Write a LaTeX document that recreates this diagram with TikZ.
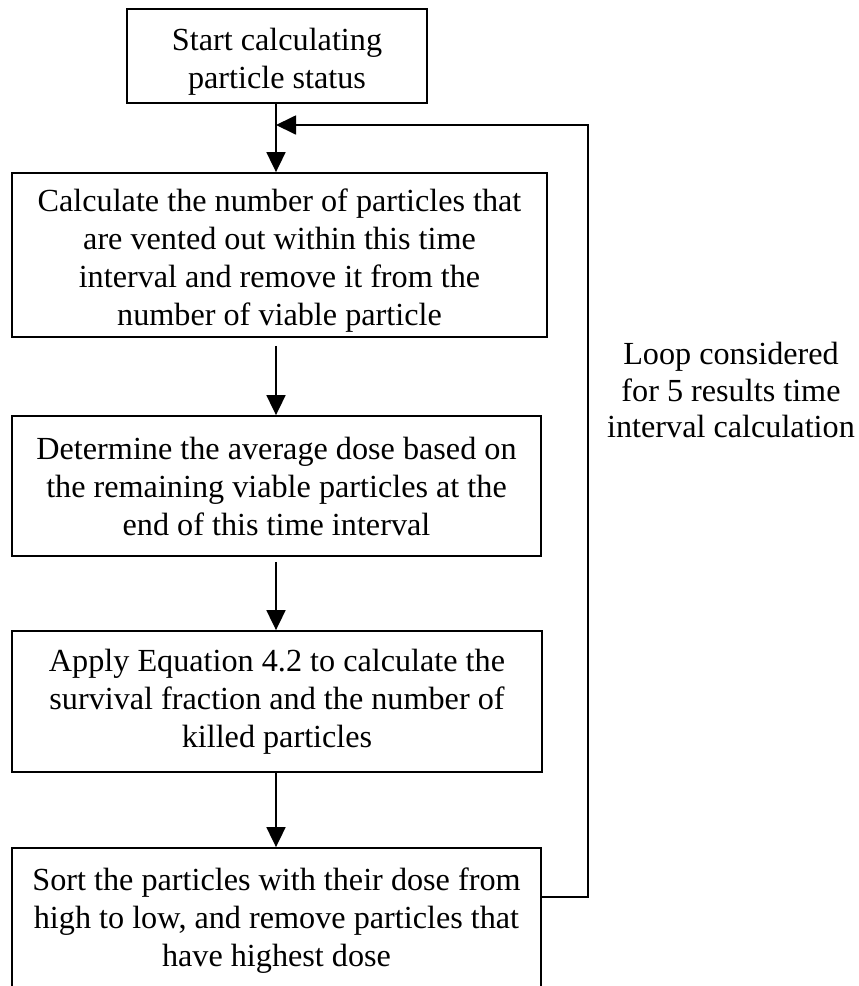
\documentclass[tikz,border=0pt]{standalone}
\usepackage{fontspec}
\setmainfont{Liberation Serif}
\usetikzlibrary{arrows.meta}
\newcommand{\lowtext}{\rule{0pt}{17pt}}
\begin{document}
\begin{tikzpicture}[x=0.5pt,y=-0.5pt,
		flowbox/.style={draw,line width=0.9pt,inner sep=0pt,align=center,font=\fontsize{16.1}{19}\selectfont},
		flowarrow/.style={line width=0.9pt,-{Triangle[length=10pt,width=9.5pt]}}]
		\useasboundingbox (0,0) rectangle (858,986);
		\node [flowbox,minimum width=150pt,minimum height=47pt] (start) at (277,56) {\lowtext Start calculating\\particle status};
		\node [flowbox,minimum width=267.5pt,minimum height=82pt] (vent) at (279.5,255) {\lowtext Calculate the number of particles that\\are vented out within this time\\interval and remove it from the\\number of viable particle};
		\node [flowbox,minimum width=264.5pt,minimum height=70pt] (dose) at (276.5,486) {Determine the average dose based on\\the remaining viable particles at the\\end of this time interval};
		\node [flowbox,minimum width=265pt,minimum height=70.5pt] (kill) at (277,701.5) {Apply Equation 4.2 to calculate the\\survival fraction and the number of\\killed particles};
		\node [flowbox,minimum width=264.5pt,minimum height=72.5pt] (sort) at (276.5,920.5) {Sort the particles with their dose from\\high to low, and remove particles that\\have highest dose};
		\node [align=center,font=\fontsize{16.1}{18.3}\selectfont] (looplbl) at (731,390) {Loop considered\\for 5 results time\\interval calculation};
		\coordinate (stem) at (276,0);
		\coordinate (loopbot) at (588,897);
		\coordinate (looptop) at (588,125);
		\draw [flowarrow] (start.south -| stem) -- (vent.north -| stem);
		\draw [flowarrow,shorten <=4pt] (vent.south -| stem) -- (dose.north -| stem);
		\draw [flowarrow,shorten <=2.5pt] (dose.south -| stem) -- (kill.north -| stem);
		\draw [flowarrow] (kill.south -| stem) -- (sort.north -| stem);
		\draw [flowarrow] (sort.east |- loopbot) -- (loopbot) -- (looptop) -- (stem |- looptop);
	\end{tikzpicture}
\end{document}
